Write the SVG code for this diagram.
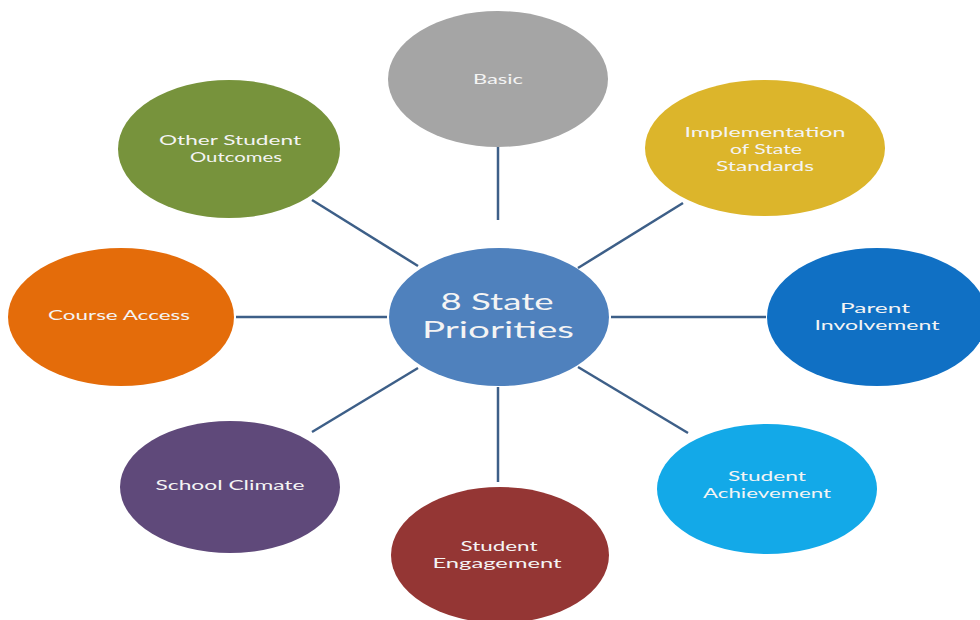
<svg xmlns="http://www.w3.org/2000/svg" width="980" height="620" viewBox="0 0 980 620">
<style>
.lbl{font-family:Lato,"Open Sans","Liberation Sans",sans-serif;font-size:14px;fill:#f4f4f4;text-anchor:middle}
.big{font-family:Lato,"Open Sans","Liberation Sans",sans-serif;font-size:23px;fill:#f4f4f4;text-anchor:middle}
.conn line{stroke:#3d5f88;stroke-width:2.5;stroke-linecap:butt}
</style>
<rect width="980" height="620" fill="#ffffff"/>
<g id="connectors" class="conn">
<line x1="498" y1="146" x2="498" y2="220"/>
<line x1="683" y1="203" x2="578" y2="268"/>
<line x1="611" y1="317" x2="766" y2="317"/>
<line x1="578" y1="367" x2="688" y2="433"/>
<line x1="498" y1="387" x2="498" y2="482"/>
<line x1="418" y1="368" x2="312" y2="432"/>
<line x1="236" y1="317" x2="387" y2="317"/>
<line x1="312" y1="200" x2="418" y2="266"/>
</g>
<g id="center">
<ellipse cx="499" cy="317" rx="110" ry="69" fill="#4f81bd"/>
<text class="big" x="497" y="310" textLength="113" lengthAdjust="spacingAndGlyphs">8 State</text>
<text class="big" x="498" y="338" textLength="152" lengthAdjust="spacingAndGlyphs">Priorities</text>
</g>
<g id="basic">
<ellipse cx="498" cy="79" rx="110" ry="68" fill="#a5a5a5"/>
<text class="lbl" x="498" y="84" textLength="50" lengthAdjust="spacingAndGlyphs">Basic</text>
</g>
<g id="implementation">
<ellipse cx="765" cy="148" rx="120" ry="68" fill="#dcb52b"/>
<text class="lbl" x="765" y="137" textLength="161" lengthAdjust="spacingAndGlyphs">Implementation</text>
<text class="lbl" x="766" y="154" textLength="72" lengthAdjust="spacingAndGlyphs">of State</text>
<text class="lbl" x="765" y="171" textLength="98" lengthAdjust="spacingAndGlyphs">Standards</text>
</g>
<g id="parent">
<ellipse cx="877" cy="317" rx="110" ry="69" fill="#1070c4"/>
<text class="lbl" x="875" y="313" textLength="70" lengthAdjust="spacingAndGlyphs">Parent</text>
<text class="lbl" x="877" y="330" textLength="125" lengthAdjust="spacingAndGlyphs">Involvement</text>
</g>
<g id="achievement">
<ellipse cx="767" cy="489" rx="110" ry="65" fill="#13a9e8"/>
<text class="lbl" x="767" y="481" textLength="78" lengthAdjust="spacingAndGlyphs">Student</text>
<text class="lbl" x="767" y="498" textLength="128" lengthAdjust="spacingAndGlyphs">Achievement</text>
</g>
<g id="engagement">
<ellipse cx="500" cy="555" rx="109" ry="68" fill="#943634"/>
<text class="lbl" x="499" y="551" textLength="77" lengthAdjust="spacingAndGlyphs">Student</text>
<text class="lbl" x="497" y="568" textLength="129" lengthAdjust="spacingAndGlyphs">Engagement</text>
</g>
<g id="climate">
<ellipse cx="230" cy="487" rx="110" ry="66" fill="#5f497a"/>
<text class="lbl" x="230" y="490" textLength="149" lengthAdjust="spacingAndGlyphs">School Climate</text>
</g>
<g id="course">
<ellipse cx="121" cy="317" rx="113" ry="69" fill="#e46c0a"/>
<text class="lbl" x="119" y="320" textLength="142" lengthAdjust="spacingAndGlyphs">Course Access</text>
</g>
<g id="outcomes">
<ellipse cx="229" cy="149" rx="111" ry="69" fill="#77933c"/>
<text class="lbl" x="230" y="145" textLength="142" lengthAdjust="spacingAndGlyphs">Other Student</text>
<text class="lbl" x="236" y="162" textLength="92" lengthAdjust="spacingAndGlyphs">Outcomes</text>
</g>
</svg>
